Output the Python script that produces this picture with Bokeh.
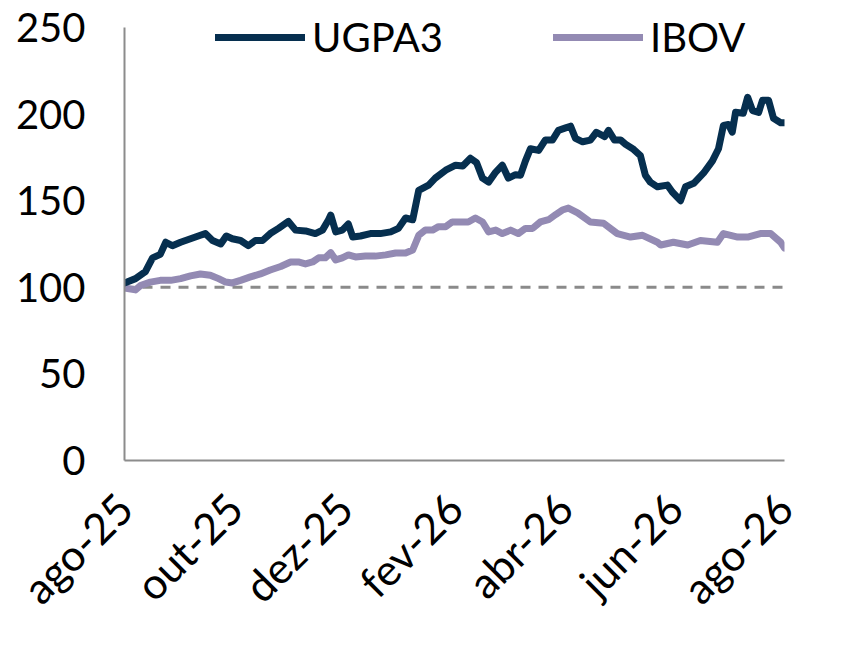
import math
from bokeh.plotting import figure
from bokeh.models import Range1d, FixedTicker, Span, Legend, LegendItem
from bokeh.embed import file_html
from bokeh.resources import INLINE

# month offsets from ago-25
ugpa_x = [0.00, 0.20, 0.38, 0.51, 0.65, 0.75, 0.87, 1.02, 1.20, 1.38, 1.47, 1.60, 1.75, 1.85, 1.96,
          2.11, 2.25, 2.38, 2.51, 2.65, 2.80, 2.98, 3.11, 3.29, 3.47, 3.60, 3.71, 3.75, 3.84, 3.96,
          4.07, 4.15, 4.29, 4.47, 4.65, 4.84, 4.98, 5.11, 5.24, 5.35, 5.53, 5.65, 5.84, 6.02, 6.15,
          6.29, 6.40, 6.51, 6.62, 6.75, 6.87, 6.98, 7.11, 7.20, 7.29, 7.38, 7.53, 7.65, 7.78, 7.89,
          8.02, 8.11, 8.20, 8.33, 8.47, 8.58, 8.73, 8.80, 8.91, 9.02, 9.11, 9.24, 9.38, 9.47, 9.56,
          9.69, 9.87, 9.96, 10.11, 10.20, 10.35, 10.53, 10.69, 10.80, 10.89, 10.98, 11.05, 11.11,
          11.25, 11.33, 11.42, 11.53, 11.60, 11.71, 11.80, 11.93, 12.00]
ugpa_y = [102.5, 105, 109, 117, 119, 126, 124, 126, 128, 130, 131, 127, 125, 129.6, 128,
          127, 124, 127, 127, 131, 134, 138, 133, 132.5, 131, 133, 139, 141.7, 132, 133,
          136.5, 129, 129.6, 131, 131, 132, 134, 140, 139, 156, 159, 163, 167.6, 170.5, 170,
          174.5, 172, 163, 160.7, 166.5, 170.5, 163, 165, 164.7, 173, 180, 179, 185, 185, 190.6,
          192, 193, 186, 184, 185, 189.5, 187, 190.6, 185, 185, 182.6, 180, 176, 164.7, 160.7,
          158, 159, 155, 150, 158, 160, 166, 173, 180, 193.5, 194, 189.6, 201,
          200.5, 209.7, 202, 201, 208, 208, 197.6, 195, 195]

ibov_x = [0.00, 0.20, 0.29, 0.47, 0.65, 0.84, 1.02, 1.20, 1.38, 1.56, 1.71, 1.84, 1.96, 2.11,
          2.29, 2.47, 2.65, 2.84, 3.02, 3.16, 3.29, 3.42, 3.53, 3.65, 3.75, 3.84, 3.96, 4.07,
          4.20, 4.38, 4.56, 4.75, 4.93, 5.11, 5.24, 5.35, 5.47, 5.60, 5.71, 5.84, 5.96, 6.11,
          6.25, 6.38, 6.51, 6.62, 6.75, 6.87, 7.02, 7.16, 7.29, 7.42, 7.56, 7.71, 7.84, 7.96,
          8.07, 8.24, 8.47, 8.71, 8.96, 9.20, 9.42, 9.69, 9.75, 9.98, 10.24, 10.47, 10.78,
          10.89, 11.15, 11.33, 11.56, 11.75, 11.93, 12.00]
ibov_y = [99.6, 98.5, 101, 103, 104, 104, 105, 106.6, 107.7, 107, 105, 103, 102.5, 104,
          106, 107.7, 110, 112, 114.6, 114.6, 113.5, 114.6, 117, 117, 120, 115.8, 117, 118.7,
          117.5, 118, 118, 118.7, 119.8, 119.8, 121.5, 130, 133, 133, 135, 135, 137.7, 137.7,
          137.7, 140, 137.7, 132, 133, 131, 133, 131, 134, 134, 137.7, 139, 142, 144.6,
          145.7, 143, 137.7, 137, 131, 129, 130, 126, 124.4, 126, 124.4, 127, 126,
          131, 129, 129, 131, 131, 126, 122.7]

tick_pos = [0, 2, 4, 6, 8, 10, 12]
tick_labels = ["ago-25", "out-25", "dez-25", "fev-26", "abr-26", "jun-26", "ago-26"]
y_ticks = [0, 50, 100, 150, 200, 250]
y_max = 250
base_level = 100

FONT = "Lato"
AXIS_COLOR = "#8c8c8c"

# frame: left 124, top 7, right 784, bottom 461 (px); 250 units = 434 px
p = figure(width=830, height=634, output_backend="svg", toolbar_location=None,
           x_range=Range1d(0, 12), y_range=Range1d(0, y_max * 454 / 434),
           min_border_left=124, min_border_top=7, min_border_right=46, min_border_bottom=173)
p.outline_line_color = None
p.xgrid.visible = False
p.ygrid.visible = False
p.background_fill_color = "white"

span = Span(location=base_level, dimension="width", line_color="#8a8a8a",
            line_width=3, line_dash="10 8", level="underlay")
p.add_layout(span)

r_ibov = p.line(ibov_x, ibov_y, line_color="#938AB3", line_width=7,
                line_join="round", line_cap="round")
r_ugpa = p.line(ugpa_x, ugpa_y, line_color="#062F4F", line_width=7,
                line_join="round", line_cap="round")

for ax in (p.xaxis[0], p.yaxis[0]):
    ax.axis_line_color = AXIS_COLOR
    ax.axis_line_width = 2
    ax.major_tick_line_color = None
    ax.minor_tick_line_color = None
    ax.major_label_text_font = FONT
    ax.major_label_text_font_size = "40px"
    ax.major_label_text_color = "black"

p.xaxis.major_label_text_font_size = "43px"
p.yaxis.ticker = FixedTicker(ticks=y_ticks)
p.yaxis.bounds = (0, y_max)
p.yaxis.major_label_standoff = 33
p.xaxis.ticker = FixedTicker(ticks=tick_pos)
p.xaxis.major_label_overrides = {t: l for t, l in zip(tick_pos, tick_labels)}
p.xaxis.major_label_orientation = math.pi / 4
p.xaxis.major_label_standoff = 34

legend = Legend(items=[LegendItem(label="UGPA3", renderers=[r_ugpa]),
                       LegendItem(label="IBOV", renderers=[r_ibov])],
                orientation="horizontal", location=(91, 399))
legend.background_fill_alpha = 0
legend.border_line_color = None
legend.padding = 0
legend.margin = 0
legend.spacing = 110
legend.label_standoff = 7
legend.glyph_width = 90
legend.glyph_height = 40
legend.label_text_font = FONT
legend.label_text_font_size = "40px"
legend.label_text_color = "black"
legend.label_text_baseline = "middle"
p.add_layout(legend)

open("out.html", "w").write(file_html(p, INLINE))
